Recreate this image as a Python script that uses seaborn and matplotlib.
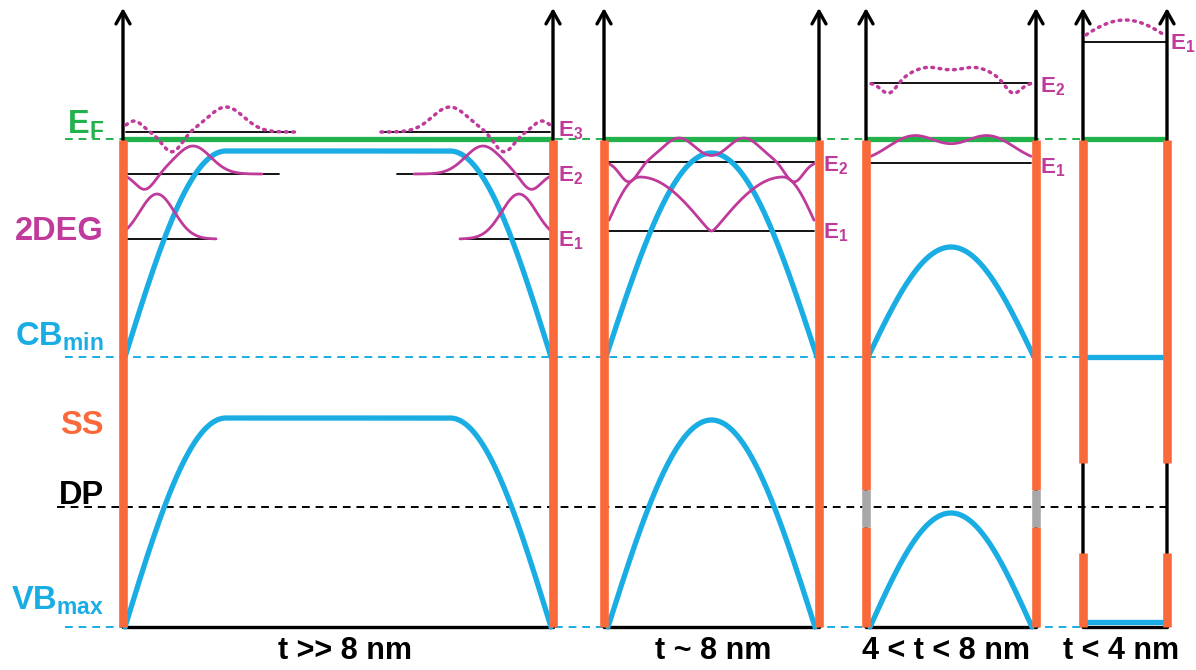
import numpy as np
import matplotlib
matplotlib.use("Agg")
from matplotlib import pyplot as plt
import seaborn as sns

# ---- schematic values (image-like coordinates, y grows downwards) ----
panel_labels = ["t >> 8 nm", "t ~ 8 nm", "4 < t < 8 nm", "t < 4 nm"]
panel_label_x = [345, 713, 946, 1121]
wall_left = [123, 604, 866, 1083]
wall_right = [553, 819, 1036, 1167]

side_labels = ["E$_\\mathregular{F}$", "2DEG", "CB$_\\mathregular{min}$", "SS", "DP", "VB$_\\mathregular{max}$"]
side_label_y = [125, 232, 337, 426, 496, 601]

E_F = 139
CB_MIN = 357
DP_LEVEL = 507
VB_MAX = 627
ARROW_TIP = 8

cb_top = [151, 153, 247, 357]
vb_top = [418, 420, 513, 622]
p1_ramp = 101

# orange surface-state segments (top, bottom) per panel, grey gap in panel 3
ss_segments = [[(140, 627)], [(140, 627)], [(140, 490), (527, 627)], [(140, 463), (553, 627)]]
dp_gap = (490, 527)

# subband levels
p1_levels = [239, 174, 132]
p1_line_end = [216, 279, 295]
p1_wf_end = [216, 262, 295]
p2_levels = [231, 162]
p3_levels = [163, 83]
p4_level = 42

# wavefunction bumps: (offset from wall, width, height)
wf_p1_e1 = [(31, 24.5, 45)]
wf_p1_e2 = [(67, 25, 28), (19, 14, -16)]
wf_p1_e3 = [(100, 25, 25), (46, 14, -20), (8, 12, 11)]
wf_p2_e1 = (54, 31, 0.2)          # height, peak offset, value at wall
wf_p2_e2 = [(70, 23, 24), (20, 13, -20)]
wf_p3_e1 = [(43, 36.5, 27)]
wf_p3_e2 = [(56, 26.5, 15), (18, 11, -12)]
wf_p4_e1 = (22, 0.79)

GREEN = "#22B24C"
ORANGE = "#F9693A"
CYAN = "#19ADE4"
MAGENTA = "#BF3A9B"
GREY = "#A8A8A8"


def gauss(x, c, w):
    return np.exp(-((x - c) / w) ** 2)


def wavefunction(x0, x1, level, bumps, side="both"):
    x = np.linspace(x0, x1, 400)
    s = np.zeros_like(x)
    for c, w, a in bumps:
        if side in ("left", "both"):
            s += a * gauss(x, x0 + c, w)
        if side in ("right", "both"):
            s += a * gauss(x, x1 - c, w)
    return x, level - s


def node_wave(x0, x1, level, params):
    # two lobes with a node in the middle of the well
    amp, dp, wall = params
    x = np.linspace(x0, x1, 401)
    d = np.minimum(x - x0, x1 - x)
    half = (x1 - x0) / 2
    eps = 0.06
    inner = np.cos(np.pi / 2 * np.clip(d - dp, 0, None) / (half - dp))
    inner = (np.sqrt(inner ** 2 + eps ** 2) - eps) / (np.sqrt(1 + eps ** 2) - eps)
    f = np.where(d <= dp, wall + (1 - wall) * np.sin(np.pi / 2 * d / dp), inner)
    return x, level - amp * f


def arch(x0, x1, base, top):
    x = np.linspace(x0, x1, 300)
    return x, base - (base - top) * np.sin(np.pi * (x - x0) / (x1 - x0))


def trapezoid(x0, x1, base, top, ramp):
    x = np.linspace(x0, x1, 600)
    u = np.clip(np.minimum(x - x0, x1 - x) / ramp, 0, 1)
    return x, base - (base - top) * np.sin(np.pi / 2 * u)


def curve(ax, x, y, color, lw, dotted=False):
    if dotted:
        ax.plot(x, y, color=color, lw=lw + 0.5, linestyle=(0, (0.5, 1.6)),
                dash_capstyle="round", zorder=6)
    else:
        sns.lineplot(x=x, y=y, ax=ax, color=color, lw=lw, sort=False,
                     estimator=None, zorder=6)


sns.set_theme(style="white")
plt.rcParams["font.family"] = ["Liberation Sans", "DejaVu Sans"]
plt.rcParams["mathtext.default"] = "regular"

fig = plt.figure(figsize=(11.96, 6.70), dpi=100)
ax = fig.add_axes([0, 0, 1, 1])
ax.set_xlim(0, 1196)
ax.set_ylim(670, 0)
ax.axis("off")

# dashed reference levels
ax.plot([65, wall_left[3]], [E_F, E_F], color=GREEN, lw=1.4, dashes=(4, 3), zorder=1)
ax.plot([65, wall_left[3]], [CB_MIN, CB_MIN], color=CYAN, lw=1.4, dashes=(4, 3), zorder=1)
ax.plot([57, wall_right[3]], [DP_LEVEL, DP_LEVEL], color="black", lw=1.4, dashes=(4, 3), zorder=1)
ax.plot([65, wall_left[3]], [VB_MAX, VB_MAX], color=CYAN, lw=1.4, dashes=(4, 3), zorder=1)

for i in range(4):
    xl, xr = wall_left[i], wall_right[i]
    # axes arrows
    for xw in (xl, xr):
        ax.annotate("", xy=(xw, ARROW_TIP), xytext=(xw, VB_MAX),
                    arrowprops=dict(arrowstyle="->,head_length=0.75,head_width=0.42",
                                    lw=2.4, color="black", shrinkA=0, shrinkB=0),
                    zorder=3)
    # bottom line
    ax.plot([xl, xr], [VB_MAX, VB_MAX], color="black", lw=2.4, zorder=4)
    # fermi level
    ax.plot([xl, xr], [E_F, E_F], color=GREEN, lw=3.8, solid_capstyle="butt", zorder=2)

    # bands
    if i == 0:
        x, y = trapezoid(xl + 2, xr - 2, CB_MIN, cb_top[i], p1_ramp)
        curve(ax, x, y, CYAN, 3.8)
        x, y = trapezoid(xl + 2, xr - 2, VB_MAX, vb_top[i], p1_ramp)
        curve(ax, x, y, CYAN, 3.8)
    elif i < 3:
        x, y = arch(xl + 2, xr - 2, CB_MIN, cb_top[i])
        curve(ax, x, y, CYAN, 3.8)
        x, y = arch(xl + 4, xr - 4, VB_MAX, vb_top[i])
        curve(ax, x, y, CYAN, 3.8)
    else:
        ax.plot([xl + 4, xr - 4], [cb_top[i], cb_top[i]], color=CYAN, lw=3.8, zorder=5)
        ax.plot([xl + 4, xr - 4], [vb_top[i], vb_top[i]], color=CYAN, lw=3.8, zorder=5)

    # surface states on the walls
    for xw in (xl, xr):
        for top, bot in ss_segments[i]:
            ax.plot([xw, xw], [top, bot], color=ORANGE, lw=6.2,
                    solid_capstyle="butt", zorder=7)
        if i == 2:
            ax.plot([xw, xw], list(dp_gap), color=GREY, lw=6.2,
                    solid_capstyle="butt", zorder=7)

# panel 1 subbands (both interfaces)
xl, xr = wall_left[0] + 3, wall_right[0] - 3
mirror = xl + xr
for lev, lend, wend, bumps, dot in zip(p1_levels, p1_line_end, p1_wf_end,
                                       [wf_p1_e1, wf_p1_e2, wf_p1_e3],
                                       [False, False, True]):
    ax.plot([xl, lend], [lev, lev], color="black", lw=1.3, zorder=4)
    ax.plot([mirror - lend, xr], [lev, lev], color="black", lw=1.3, zorder=4)
    x, y = wavefunction(xl, wend, lev, bumps, "left")
    curve(ax, x, y, MAGENTA, 2.0, dot)
    x, y = wavefunction(mirror - wend, xr, lev, bumps, "right")
    curve(ax, x, y, MAGENTA, 2.0, dot)

# panel 2 subbands
xl, xr = wall_left[1] + 5, wall_right[1] - 5
for lev in p2_levels:
    ax.plot([xl, xr], [lev, lev], color="black", lw=1.3, zorder=4)
x, y = node_wave(xl, xr, p2_levels[0], wf_p2_e1)
curve(ax, x, y, MAGENTA, 2.0)
x, y = wavefunction(xl, xr, p2_levels[1], wf_p2_e2)
curve(ax, x, y, MAGENTA, 2.0)

# panel 3 subbands
xl, xr = wall_left[2] + 5, wall_right[2] - 5
for lev, bumps, dot in zip(p3_levels, [wf_p3_e1, wf_p3_e2], [False, True]):
    ax.plot([xl, xr], [lev, lev], color="black", lw=1.3, zorder=4)
    x, y = wavefunction(xl, xr, lev, bumps)
    curve(ax, x, y, MAGENTA, 2.0, dot)

# panel 4 subband
xl, xr = wall_left[3], wall_right[3]
ax.plot([xl, xr], [p4_level, p4_level], color="black", lw=1.3, zorder=4)
amp, k = wf_p4_e1
x = np.linspace(xl + 3, xr - 3, 200)
y = p4_level - amp * np.cos(np.pi * k * ((x - xl - 3) / (xr - xl - 6) - 0.5))
curve(ax, x, y, MAGENTA, 2.0, True)

# left labels
side_colors = [GREEN, MAGENTA, CYAN, ORANGE, "black", CYAN]
for lab, yy, col in zip(side_labels, side_label_y, side_colors):
    ax.text(104, yy, lab, color=col, fontsize=23.5, fontweight="bold",
            ha="right", va="center", zorder=8)

# subband labels on the right of each well
sub_labels = [("E$_3$", 558, 131), ("E$_2$", 558, 176), ("E$_1$", 558, 241),
              ("E$_2$", 823, 166), ("E$_1$", 823, 233),
              ("E$_2$", 1040, 87), ("E$_1$", 1040, 168),
              ("E$_1$", 1170, 44)]
for lab, xx, yy in sub_labels:
    ax.text(xx, yy, lab, color=MAGENTA, fontsize=16, fontweight="bold",
            ha="left", va="center", zorder=8)

# thickness labels
for lab, xx in zip(panel_labels, panel_label_x):
    ax.text(xx, 651, lab, color="black", fontsize=22, fontweight="bold",
            ha="center", va="center")

fig.savefig("out.png", dpi=100)
